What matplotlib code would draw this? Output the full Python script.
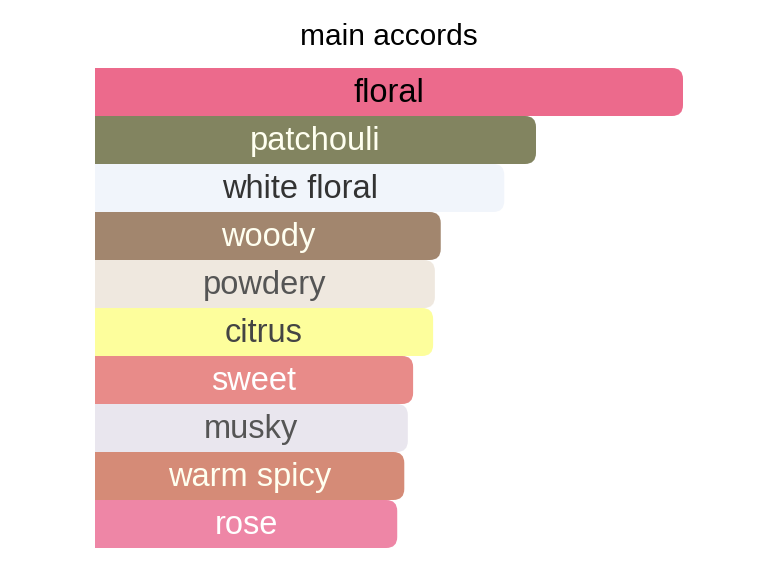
import matplotlib
matplotlib.use('Agg')
import matplotlib.pyplot as plt
from matplotlib.patches import FancyBboxPatch

# accords and their relative strength
accords = ['floral', 'patchouli', 'white floral', 'woody', 'powdery',
           'citrus', 'sweet', 'musky', 'warm spicy', 'rose']
strength = [100, 75.0, 69.6, 58.8, 57.8, 57.5, 54.1, 53.2, 52.6, 51.4]
bar_colors = ['#EC6A8C', '#828460', '#F1F5FB', '#A2866E', '#EFE8DF',
              '#FDFE9C', '#E88B89', '#E9E6EE', '#D58B77', '#EE86A6']
text_colors = ['#000000', '#FFFFF0', '#333333', '#FFFFF0', '#555555',
               '#444444', '#FFFFFF', '#555555', '#FFFFF0', '#FFFFFF']

plt.rcParams['font.family'] = ['Liberation Sans', 'DejaVu Sans']

fig = plt.figure(figsize=(7.7, 5.76), dpi=100)
W, H = 770, 576
ax = fig.add_axes([95 / W, (H - 548) / H, (683 - 95) / W, (548 - 68) / H])
ax.set_xlim(0, max(strength))
ax.set_ylim(len(accords) - 0.5, -0.5)
ax.axis('off')

# pixel -> data conversion for rounded corners (radius ~11 px)
px_x = max(strength) / (683 - 95)
px_y = len(accords) / (548 - 68)
r = 11 * px_x
aspect = px_y / px_x

for i, (name, val) in enumerate(zip(accords, strength)):
    # start left of 0 so only the right corners show rounding after clipping
    patch = FancyBboxPatch((-3 * r, i - 0.5), val + 3 * r, 1.0,
                           boxstyle=f'round,pad=0,rounding_size={r}',
                           mutation_aspect=aspect,
                           facecolor=bar_colors[i], edgecolor='none')
    ax.add_patch(patch)
    patch.set_clip_path(ax.patch)
    ax.text(val / 2, i + 0.04, name, ha='center', va='center',
            fontsize=23.5, color=text_colors[i])

fig.text((95 + 683) / 2 / W, 1 - 37 / H, 'main accords', ha='center',
         va='center', fontsize=21.5, color='#000000')

fig.savefig('out.png', dpi=100)
